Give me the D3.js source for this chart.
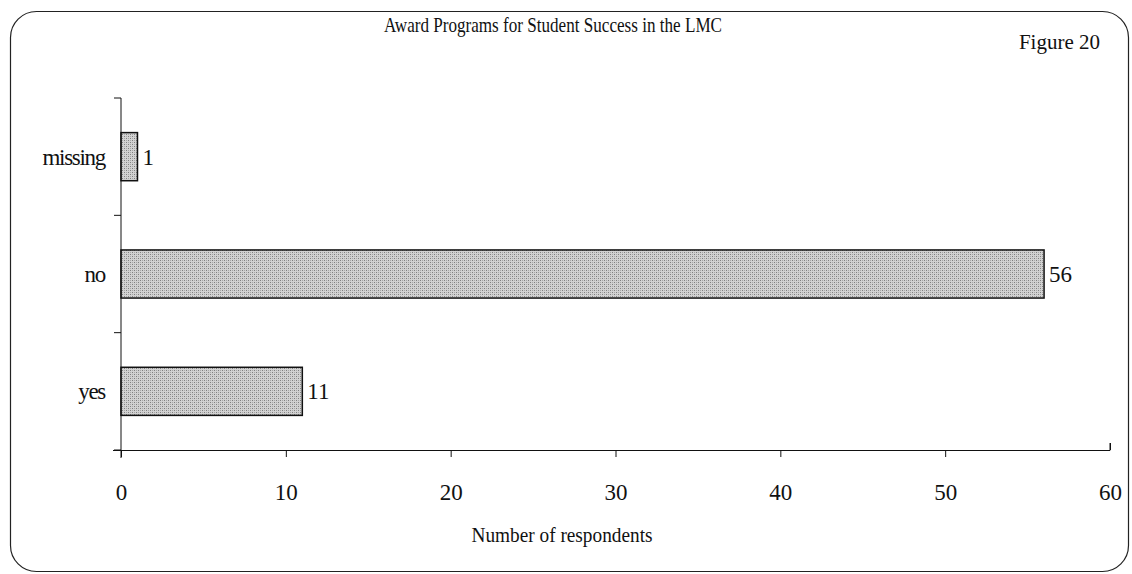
<!DOCTYPE html>
<html><head><meta charset="utf-8">
<script src="https://cdn.jsdelivr.net/npm/d3@7"></script>
<style>body{margin:0;background:#fff}svg{display:block}text{font-family:"Liberation Serif","Times New Roman",serif;fill:#111}</style>
</head><body>
<script>
const categories = ["missing", "no", "yes"];
const values = [1, 56, 11];
const xTicks = [0, 10, 20, 30, 40, 50, 60];
const title = "Award Programs for Student Success in the LMC";
const figureLabel = "Figure 20";
const xLabel = "Number of respondents";

const W = 1132, H = 574;
const svg = d3.select("body").append("svg").attr("width", W).attr("height", H);

const defs = svg.append("defs");
const pat = defs.append("pattern").attr("id", "stip").attr("patternUnits", "userSpaceOnUse")
  .attr("width", 4).attr("height", 4);
pat.append("rect").attr("width", 4).attr("height", 4).attr("fill", "#d2d2d2");
pat.append("rect").attr("x", 0).attr("y", 0).attr("width", 1).attr("height", 1).attr("fill", "#808080");
pat.append("rect").attr("x", 2).attr("y", 2).attr("width", 1).attr("height", 1).attr("fill", "#808080");
pat.append("rect").attr("x", 2).attr("y", 0).attr("width", 1).attr("height", 1).attr("fill", "#a8a8a8");
pat.append("rect").attr("x", 0).attr("y", 2).attr("width", 1).attr("height", 1).attr("fill", "#a8a8a8");

// border
svg.append("rect").attr("x", 10.5).attr("y", 11.5).attr("width", 1118).attr("height", 560)
  .attr("rx", 26).attr("ry", 26).attr("fill", "none").attr("stroke", "#222").attr("stroke-width", 1.2);

const x = d3.scaleLinear().domain([0, 60]).range([121, 1110]);
const y = d3.scaleBand().domain(categories).range([98, 450]).paddingInner(0.59).paddingOuter(0.295);

// bars
svg.append("g").selectAll("rect").data(categories).join("rect")
  .attr("x", x(0)).attr("y", d => y(d))
  .attr("width", (d, i) => x(values[i]) - x(0)).attr("height", y.bandwidth())
  .attr("fill", "url(#stip)").attr("stroke", "#111").attr("stroke-width", 1.5);

// value labels
svg.append("g").selectAll("text").data(categories).join("text")
  .attr("x", (d, i) => x(values[i]) + 5).attr("y", d => y(d) + y.bandwidth() / 2 + 8)
  .attr("font-size", 23).text((d, i) => values[i]);

// y axis
const yAxisG = svg.append("g").attr("transform", `translate(${x(0)},0)`);
yAxisG.append("line").attr("x1", 0).attr("x2", 0).attr("y1", 98).attr("y2", 458).attr("stroke", "#111");
const bounds = d3.range(categories.length + 1).map(i => 98 + i * (352 / categories.length));
yAxisG.selectAll("line.tk").data(bounds).join("line").attr("class", "tk")
  .attr("x1", -7).attr("x2", 0).attr("y1", d => d).attr("y2", d => d).attr("stroke", "#111");
yAxisG.selectAll("text").data(categories).join("text")
  .attr("x", -16).attr("y", d => y(d) + y.bandwidth() / 2 + 8)
  .attr("text-anchor", "end").attr("font-size", 23).attr("letter-spacing", -1.3).text(d => d);

// x axis
const xAxis = d3.axisBottom(x).tickValues(xTicks).tickSize(7).tickSizeOuter(0);
const xg = svg.append("g").attr("transform", "translate(0,450)").call(xAxis);
xg.select(".domain").attr("d", `M113,0.5H${x(60)}V-7`).attr("stroke", "#111");
xg.selectAll(".tick line").attr("stroke", "#111");
xg.selectAll(".tick").filter(d => d === 60).select("line").attr("y2", -7);
xg.selectAll(".tick text").attr("y", 50).attr("dy", 0).attr("font-size", 23)
  .attr("font-family", "Liberation Serif, serif").attr("fill", "#111");

svg.append("text").attr("x", 562).attr("y", 542).attr("text-anchor", "middle")
  .attr("font-size", 21).attr("textLength", 181).attr("lengthAdjust", "spacingAndGlyphs").text(xLabel);
svg.append("text").attr("x", 553).attr("y", 32).attr("text-anchor", "middle")
  .attr("font-size", 21).attr("textLength", 338).attr("lengthAdjust", "spacingAndGlyphs").text(title);
svg.append("text").attr("x", 1100).attr("y", 49).attr("text-anchor", "end")
  .attr("font-size", 21).text(figureLabel);
</script>
</body></html>
